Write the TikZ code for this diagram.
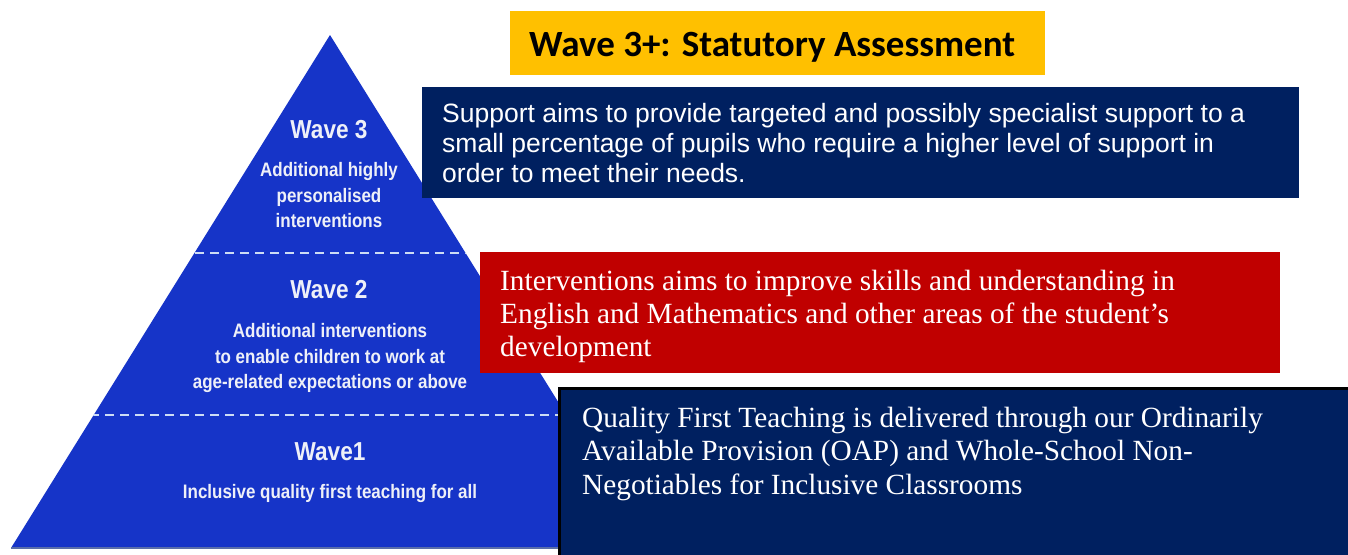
\documentclass[tikz,border=0pt]{standalone}
\usepackage{fontspec}
\setmainfont{Liberation Serif}
\newfontfamily\headfont{Carlito}
\newfontfamily\aimsfont{Liberation Sans}
\newfontfamily\tierfont{Liberation Sans}[FakeStretch=0.87]
\usetikzlibrary{calc}

\definecolor{pyrblue}{RGB}{22,52,200}
\definecolor{pyrbase}{RGB}{90,110,170}
\definecolor{tierdash}{RGB}{205,220,245}
\definecolor{tiertext}{RGB}{238,240,248}
\definecolor{navy}{RGB}{0,32,96}
\definecolor{wavered}{RGB}{192,0,0}
\definecolor{amber}{RGB}{255,192,0}

\tikzset{
  panel/.style={rectangle, inner sep=0pt, outer sep=0pt, anchor=north west},
  tierline/.style={draw=tierdash, line width=2.8pt, dash pattern=on 9pt off 6pt},
  tiertitle/.style={text=tiertext, font=\tierfont\bfseries\fontsize{26}{30}\selectfont, inner sep=0pt},
  tiernote/.style={text=tiertext, font=\tierfont\bfseries\fontsize{19.5}{25.5}\selectfont, align=center, inner sep=0pt},
  % multi-line text is placed by the baseline of its last line
  aimstext/.style={text=white, anchor=base west, inner sep=0pt, align=left},
}

\begin{document}
\begin{tikzpicture}[x=1pt,y=-1pt]
\useasboundingbox (0,0) rectangle (1348,554);
\fill[white] (0,0) rectangle (1348,554);

% the three-tier pyramid
\coordinate (apex) at (330,35);
\coordinate (bl) at (11,548);
\coordinate (br) at (649,548);
\fill[pyrblue] (apex) -- (bl) -- (br) -- cycle;
\draw[pyrbase, line width=1.5pt] (bl) -- (br);
\begin{scope}
  \clip (apex) -- (bl) -- (br) -- cycle;
  \draw[tierline] (0,253) -- (700,253);
  \draw[tierline] (0,415) -- (700,415);
\end{scope}

\node[tiertitle] (w3) at (329,130) {Wave 3};
\node[tiernote] (w3note) at (329,195.5) {Additional highly\\personalised\\interventions};
\node[tiertitle] (w2) at (329,290) {Wave 2};
\node[tiernote] (w2note) at (330,358) {Additional interventions\\to enable children to work at\\age-related expectations or above};
\node[tiertitle] (w1) at (330,452) {Wave1};
\node[tiernote] (w1note) at (330,493) {Inclusive quality first teaching for all};

% heading
\node[panel, fill=amber, minimum width=535pt, minimum height=64pt] (head) at (510,11) {};
\node[anchor=base west, inner sep=0pt, font=\headfont\bfseries\fontsize{37}{40}\selectfont]
  (headtext) at (529,56) {Wave 3+: Statutory Assessment};

% wave 3 panel
\node[panel, fill=navy, minimum width=877pt, minimum height=111pt] (w3box) at (422,87) {};
\node[aimstext, font=\aimsfont\fontsize{26.5}{30}\selectfont] (w3aims) at (442,182)
  {Support aims to provide targeted and possibly specialist support to a\\
   small percentage of pupils who require a higher level of support in\\
   order to meet their needs.};

% wave 2 panel
\node[panel, fill=wavered, minimum width=800pt, minimum height=121pt] (w2box) at (480,252) {};
\node[aimstext, font=\fontsize{29.3}{33}\selectfont] (w2aims) at (500,356)
  {Interventions aims to improve skills and understanding in\\
   English and Mathematics and other areas of the student’s\\
   development};

% wave 1 panel
\node[panel, fill=navy, draw=black, line width=3pt, minimum width=790pt, minimum height=170pt] (w1box) at (559,388) {};
\node[aimstext, font=\fontsize{29.3}{33.5}\selectfont] (w1aims) at (582,494)
  {Quality First Teaching is delivered through our Ordinarily\\
   Available Provision (OAP) and Whole-School Non-\\
   Negotiables for Inclusive Classrooms};
\end{tikzpicture}
\end{document}
